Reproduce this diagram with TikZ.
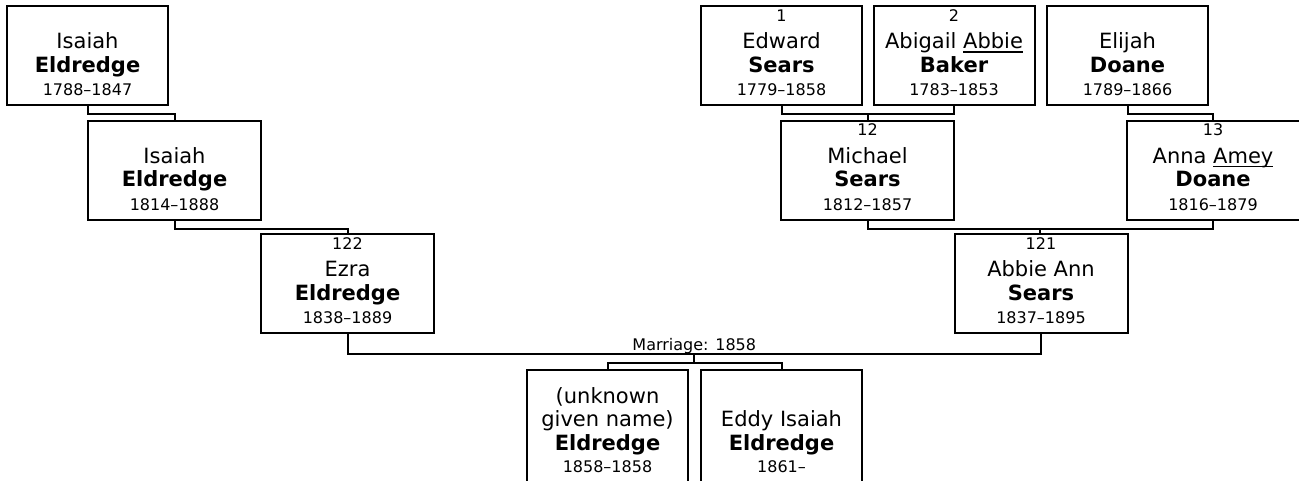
\documentclass[tikz,border=0pt]{standalone}
\usepackage{fontspec}
\setmainfont{DejaVu Sans}
\usetikzlibrary{calc}

\newcommand{\namefont}{\fontsize{15.75pt}{17.5pt}\selectfont}
\newcommand{\nick}[1]{\setbox0=\hbox{#1}\rlap{\rule[-3pt]{\wd0}{1pt}}\box0}
\newcommand{\pers}[4]{\vphantom{1}#1\\[3.25pt]{\namefont #2}\\{\namefont\bfseries #3}\\[0.25pt]#4\rule[-4.5pt]{0pt}{1pt}}
\newcommand{\kid}[4]{{\namefont\rule{0pt}{16.2pt}#1}\\{\namefont #2}\\{\namefont\bfseries #3}\\[-1pt]#4}

\begin{document}
\begin{tikzpicture}[x=0.75pt,y=-0.75pt,line width=1.5pt,
    pbox/.style={draw,rectangle,inner sep=0pt,align=center,minimum height=74.25pt,
      font=\fontsize{12pt}{17.5pt}\selectfont},
    narrow/.style={pbox,minimum width=120.75pt},
    wide/.style={pbox,minimum width=129.75pt},
    kidbox/.style={narrow,minimum height=85.5pt}]
  \clip (0,0) rectangle (1299,480);
  \node[narrow] (isaiahA) at (87.5,55.5) {\pers{}{Isaiah}{Eldredge}{1788--1847}};
  \node[wide] (isaiahB) at (174.5,170) {\pers{}{Isaiah}{Eldredge}{1814--1888}};
  \node[wide] (ezra) at (347.5,283.5) {\pers{122}{Ezra}{Eldredge}{1838--1889}};
  \node[narrow] (edward) at (781.5,55.5) {\pers{1}{Edward}{Sears}{1779--1858}};
  \node[narrow] (abigail) at (954,55.5) {\pers{2}{Abigail \nick{Abbie}}{Baker}{1783--1853}};
  \node[narrow] (elijah) at (1127.5,55.5) {\pers{}{Elijah}{Doane}{1789--1866}};
  \node[wide] (michael) at (867.5,170) {\pers{12}{Michael}{Sears}{1812--1857}};
  \node[wide] (anna) at (1213,170) {\pers{13}{Anna \nick{Amey}}{Doane}{1816--1879}};
  \node[wide] (abbie) at (1041,283.5) {\pers{121}{Abbie Ann}{Sears}{1837--1895}};
  \node[kidbox] (kid1) at (607.5,427) {\kid{(unknown}{given name)}{Eldredge}{1858--1858}};
  \node[kidbox] (kid2) at (781.5,427) {\kid{}{Eddy Isaiah}{Eldredge}{1861--}};

  \draw (isaiahA.south) -- ++(0,8) -| (isaiahB.north);
  \draw (isaiahB.south) -- ++(0,8.5) -| (ezra.north);
  \draw (elijah.south) -- ++(0,8) -| (anna.north);
  \draw (edward.south) -- ++(0,8) -| (abigail.south);
  \coordinate (c12) at ($(edward.south)!0.5!(abigail.south)+(0,8)$);
  \draw (c12) -- (c12 |- michael.north);
  \draw (michael.south) -- ++(0,8.5) -| (anna.south);
  \coordinate (c121) at ($(michael.south)!0.5!(anna.south)+(0,8.5)$);
  \draw (c121) -- (c121 |- abbie.north);
  \draw (ezra.south) -- ++(0,20) -| (abbie.south);
  \coordinate (wed) at ($(ezra.south)!0.5!(abbie.south)+(0,20)$);
  \node[anchor=base,inner sep=0pt,font=\fontsize{12pt}{14pt}\selectfont] (marr) at ($(wed)+(0,-4)$) {Marriage: 1858};
  \draw (wed) -- ++(0,9) coordinate (kids);
  \draw (kid1.north) |- (kids) -| (kid2.north);
\end{tikzpicture}
\end{document}
